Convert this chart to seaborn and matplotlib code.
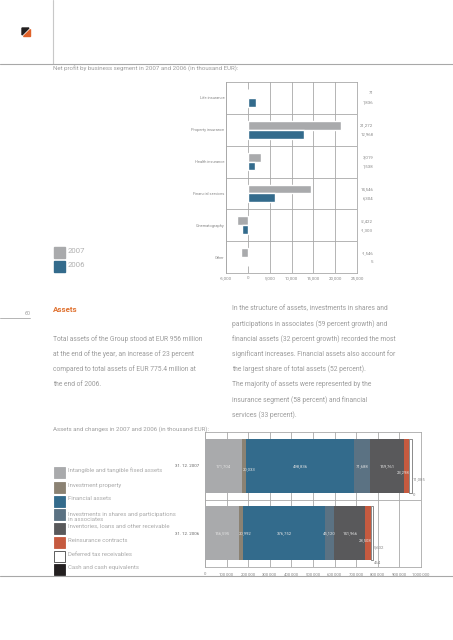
import numpy as np
import pandas as pd
import seaborn as sns
import matplotlib.pyplot as plt
from matplotlib.patches import Polygon, Rectangle

# lucro liquido por segmento (mil EUR)
segmentos = ["Life insurance", "Property insurance", "Health insurance",
             "Financial services", "Cinematography", "Other"]
anos = ["2007", "2006"]
lucro_2007 = [71, 21272, 3019, 14546, -2422, -1546]
lucro_2006 = [1836, 12968, 1538, 6304, -1303, 5]
ticks_lucro = [-5000, 0, 5000, 10000, 15000, 20000, 25000]

# ativos (mil EUR)
datas = ["31. 12. 2007", "31. 12. 2006"]
tipos_ativo = ["Intangible and tangible fixed assets", "Investment property",
               "Financial assets",
               "Investments in shares and participations\nin associates",
               "Inventories, loans and other receivable", "Reinsurance contracts",
               "Deferred tax receivables", "Cash and cash equivalents"]
ativos_2007 = [171704, 20033, 498836, 71688, 159761, 23298, 11085, 0]
ativos_2006 = [156595, 20992, 376752, 45120, 141966, 28508, 5632, 464]
ticks_ativos = [0, 100000, 200000, 300000, 400000, 500000, 600000, 700000,
                800000, 900000, 1000000]

texto_esq = ["Total assets of the Group stood at EUR 956 million",
             "at the end of the year, an increase of 23 percent",
             "compared to total assets of EUR 775.4 million at",
             "the end of 2006."]
texto_dir = ["In the structure of assets, investments in shares and",
             "participations in associates (59 percent growth) and",
             "financial assets (32 percent growth) recorded the most",
             "significant increases. Financial assets also account for",
             "the largest share of total assets (52 percent).",
             "The majority of assets were represented by the",
             "insurance segment (58 percent) and financial",
             "services (33 percent)."]

cor_2007 = "#a9aaac"
cor_2006 = "#336b8c"
cores_ativos = ["#a9aaac", "#8b8273", "#336b8c", "#5b7283", "#59595b",
                "#c65a3f", "#ffffff", "#231f20"]
cinza = "#9c9c9c"
linha = "#a8a8a8"

sns.set_style("white")
plt.rcParams["font.family"] = ["Roboto", "DejaVu Sans"]

W, H = 453, 640
fig = plt.figure(figsize=(W / 100, H / 100), dpi=100)


def caixa(x0, y0, x1, y1):
    return [x0 / W, 1 - y1 / H, (x1 - x0) / W, (y1 - y0) / H]


def fx(x):
    return x / W


def fy(y):
    return 1 - y / H


# cabecalho
fig.add_artist(plt.Line2D([fx(53), fx(53)], [fy(0), fy(64)], color="#c8c8c8", lw=0.8))
fig.add_artist(plt.Line2D([0, 1], [fy(64), fy(64)], color=linha, lw=0.8))
fig.add_artist(Polygon([(fx(22), fy(28)), (fx(29), fy(28)), (fx(22), fy(35))],
                       closed=True, color="#231f20", transform=fig.transFigure))
fig.add_artist(Polygon([(fx(30), fy(29)), (fx(30), fy(36)), (fx(23), fy(36))],
                       closed=True, color="#e0622a", transform=fig.transFigure))

fig.text(fx(53), fy(69), "Net profit by business segment in 2007 and 2006 (in thousand EUR):",
         fontsize=4.4, color=cinza, va="center")

# grafico 1
tabela = pd.DataFrame({
    "segmento": segmentos * 2,
    "valor": lucro_2007 + lucro_2006,
    "ano": [anos[0]] * len(segmentos) + [anos[1]] * len(segmentos),
})

ax1 = fig.add_axes(caixa(226, 82, 357, 273))
sns.barplot(data=tabela, x="valor", y="segmento", hue="ano", orient="h",
            palette=[cor_2007, cor_2006], width=0.56, saturation=1,
            legend=False, ax=ax1, zorder=3)
ax1.set_xlim(-5000, 25000)
ax1.set_ylim(len(segmentos) - 0.5, -0.5)
ax1.set_xticks(ticks_lucro)
ax1.set_xticklabels([f"{t:,}" for t in ticks_lucro], fontsize=3.2, color="#888888")
ax1.tick_params(axis="both", length=0, pad=2)
ax1.tick_params(axis="y", labelsize=2.9, labelcolor="#888888", pad=1)
ax1.set_xlabel("")
ax1.set_ylabel("")
ax1.grid(axis="x", color=linha, lw=0.6, zorder=0)
for b in np.arange(0.5, len(segmentos) - 1):
    ax1.axhline(b, color=linha, lw=0.6, zorder=1)
for s in ax1.spines.values():
    s.set_color(linha)
    s.set_linewidth(0.6)

tr1 = ax1.get_yaxis_transform()
for i in range(len(segmentos)):
    ax1.text(1.125, i - 0.14, f"{lucro_2007[i]:,}", transform=tr1, fontsize=3.2,
             color="#888888", ha="right", va="center")
    ax1.text(1.125, i + 0.14, f"{lucro_2006[i]:,}", transform=tr1, fontsize=3.2,
             color="#888888", ha="right", va="center")

# legenda 1
for k, (ano, cor) in enumerate(zip(anos, [cor_2007, cor_2006])):
    y0 = 247 + k * 14
    fig.add_artist(Rectangle((fx(54), fy(y0 + 11)), 11 / W, 11 / H, color=cor,
                             transform=fig.transFigure))
    fig.text(fx(68), fy(y0 + 4), ano, fontsize=5.6, color="#b0b0b0", va="center")

# numero da pagina
fig.add_artist(plt.Line2D([0, fx(30)], [fy(318), fy(318)], color=linha, lw=0.6))
fig.text(fx(30), fy(316), "60", fontsize=3.8, color=cinza, ha="right", va="bottom")

# texto
fig.text(fx(53), fy(310), "Assets", fontsize=5.8, color="#e0712f", weight="bold", va="center")
for k, t in enumerate(texto_esq):
    fig.text(fx(53), fy(339 + k * 15.2), t, fontsize=4.9, color=cinza, va="center")
for k, t in enumerate(texto_dir):
    fig.text(fx(232), fy(309 + k * 15.1), t, fontsize=4.9, color=cinza, va="center")

fig.text(fx(53), fy(429), "Assets and changes in 2007 and 2006 (in thousand EUR):",
         fontsize=4.4, color=cinza, va="center")

# grafico 2
ax2 = fig.add_axes(caixa(205, 432, 421, 567))
ax2.set_xlim(0, 1000000)
ax2.set_ylim(1.5, -0.5)
for i, valores in enumerate([ativos_2007, ativos_2006]):
    esq = np.concatenate([[0], np.cumsum(valores)[:-1]])
    for j, v in enumerate(valores):
        ax2.barh(i, v, left=esq[j], height=0.8, color=cores_ativos[j],
                 edgecolor="#333333" if j == 6 else cores_ativos[j],
                 lw=0.4 if j == 6 else 0, zorder=3)
    clara = "#e4e4e4"
    for j in [0, 2, 3, 4]:
        ax2.text(esq[j] + valores[j] / 2, i, f"{valores[j]:,}", fontsize=3.1,
                 color=clara, ha="center", va="center", zorder=4)
    ax2.text(esq[1] + 2000, i + 0.05 * (1 - i), f"{valores[1]:,}", fontsize=3.1,
             color=clara, ha="left", va="center", zorder=4)
    ax2.text(esq[5] + valores[5], i + 0.1, f"{valores[5]:,}", fontsize=3.1,
             color=clara, ha="right", va="center", zorder=4)
    ax2.text(esq[6] + valores[6] + 4000, i + 0.2, f"{valores[6]:,}", fontsize=3.1,
             color="#888888", ha="left", va="center", zorder=4)
    ax2.text(esq[7] + 4000, i + 0.44, f"{valores[7]:,}", fontsize=3.1,
             color="#888888", ha="left", va="center", zorder=4)

ax2.set_yticks([0, 1])
ax2.set_yticklabels(datas, fontsize=3.2, color="#666666")
ax2.set_xticks(ticks_ativos)
ax2.set_xticklabels([f"{t:,}" for t in ticks_ativos], fontsize=3.1, color="#888888")
ax2.tick_params(axis="y", length=0, pad=4)
ax2.tick_params(axis="x", length=2.5, width=0.5, color=linha, pad=1)
ax2.grid(axis="x", color=linha, lw=0.6, zorder=0)
ax2.axhline(0.5, color=linha, lw=0.6, zorder=1)
for s in ax2.spines.values():
    s.set_color(linha)
    s.set_linewidth(0.6)

# legenda 2
pos_leg = [467, 482, 496, 509, 523, 537, 551, 564]
for k, (nome, cor) in enumerate(zip(tipos_ativo, cores_ativos)):
    y0 = pos_leg[k]
    fig.add_artist(Rectangle((fx(54), fy(y0 + 11)), 11 / W, 11 / H, facecolor=cor,
                             edgecolor="#444444" if k == 6 else cor, lw=0.6,
                             transform=fig.transFigure))
    fig.text(fx(68), fy(y0 + 3), nome, fontsize=4.3, color="#aaaaaa", va="top" if "\n" in nome else "center",
             linespacing=0.9)

fig.add_artist(plt.Line2D([0, 1], [fy(576), fy(576)], color=linha, lw=0.8))

fig.savefig("out.png", dpi=100)
